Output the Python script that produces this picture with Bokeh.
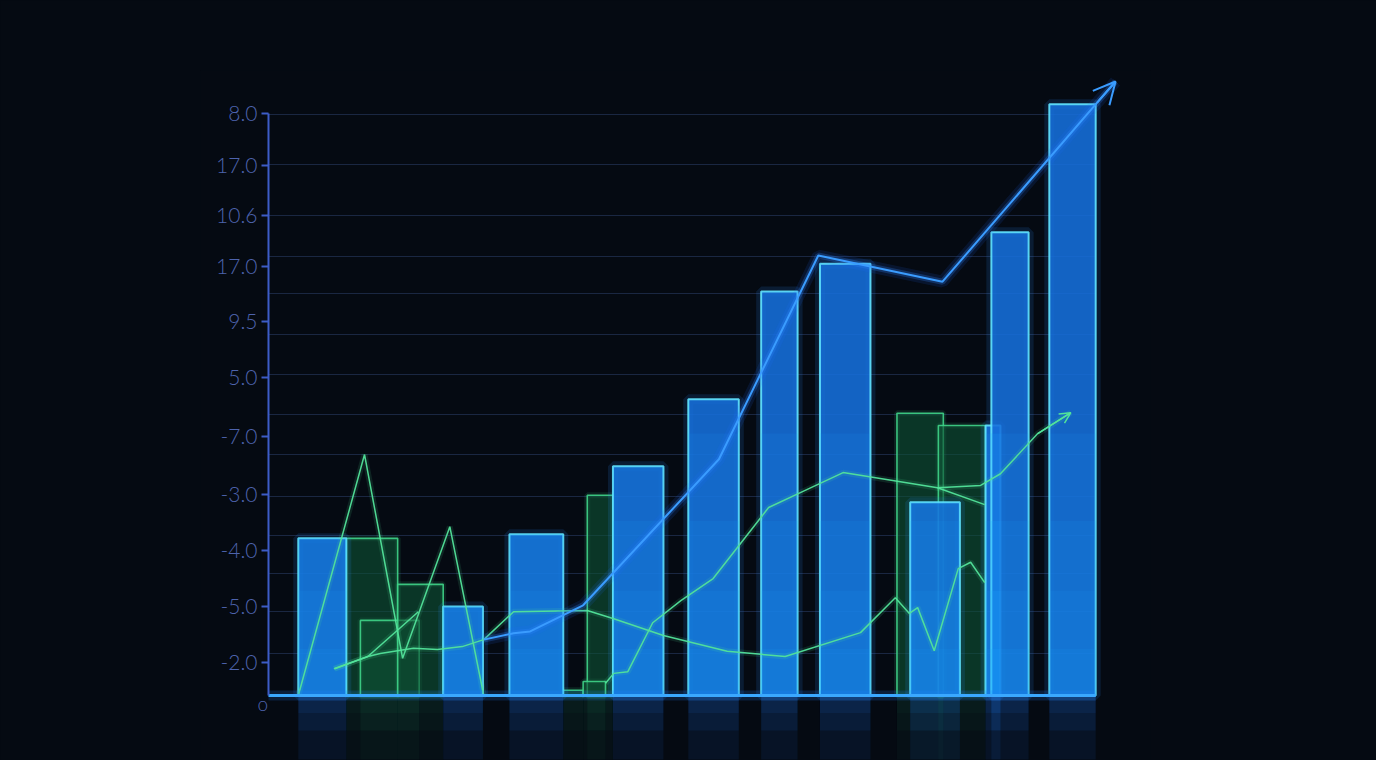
from bokeh.plotting import figure
from bokeh.models import FixedTicker, Label, Arrow, OpenHead
from bokeh.embed import file_html
from bokeh.resources import INLINE

# ---------------- data (chart units: x 0..100 along baseline, y 0 = baseline) ----------------
ytick_pos = [100.0, 91.1, 82.5, 73.7, 64.3, 54.6, 44.5, 34.5, 24.9, 15.3, 5.7]
ytick_labels = ["8.0", "17.0", "10.6", "17.0", "9.5", "5.0", "-7.0", "-3.0", "-4.0", "-5.0", "-2.0"]
grid_pos = [99.8, 91.2, 82.5, 75.4, 69.1, 62.0, 55.2, 48.3, 41.4, 34.2, 27.5, 21.0, 14.4, 7.2]

blue_left = [3.6, 21.1, 29.1, 41.6, 50.7, 59.5, 66.6, 77.5, 86.6, 87.3, 94.3]
blue_right = [9.4, 25.9, 35.6, 47.7, 56.8, 63.9, 72.7, 83.5, 88.4, 91.8, 99.9]
blue_top = [27.0, 15.3, 27.7, 39.4, 50.9, 69.4, 74.2, 33.2, 46.4, 79.6, 101.6]

green_left = [9.4, 11.1, 15.6, 35.6, 38.5, 38.0, 75.9, 80.9]
green_right = [15.6, 18.2, 21.1, 38.0, 41.6, 40.7, 81.5, 86.6]
green_top = [27.0, 12.9, 19.1, 0.9, 34.4, 2.4, 48.5, 46.4]

gA_x = [3.6, 11.6, 16.2, 21.9, 26.0]
gA_y = [0.0, 41.4, 6.4, 29.0, 0.0]
gB_x = [7.9, 12.0, 13.5, 17.5, 20.4, 23.4, 26.0]
gB_y = [4.6, 6.7, 7.2, 8.1, 7.9, 8.4, 9.6]
gE_x = [8.0, 12.0, 18.1]
gE_y = [4.6, 6.7, 14.4]
gC_x = [26.0, 29.6, 38.5, 41.7, 47.7, 55.4, 62.4, 71.5, 75.7, 77.4, 78.4, 80.4, 83.3, 84.8, 86.5]
gC_y = [9.6, 14.4, 14.6, 13.2, 10.3, 7.6, 6.7, 10.8, 16.8, 14.1, 15.1, 7.7, 21.8, 22.9, 19.4]
gD_x = [40.7, 41.7, 43.4, 46.4, 49.8, 53.7, 60.4, 64.3, 69.4, 80.8, 86.0, 88.4, 92.9, 96.9]
gD_y = [2.1, 3.8, 4.1, 12.5, 16.3, 20.1, 32.3, 34.9, 38.3, 35.7, 36.1, 38.1, 45.0, 48.6]
gF_x = [80.8, 86.5]
gF_y = [35.7, 32.8]

trend_x = [26.0, 29.6, 31.6, 38.0, 54.4, 66.4, 81.4, 100.1, 102.3]
trend_y = [9.6, 10.7, 11.0, 15.5, 40.6, 75.6, 71.1, 101.9, 105.5]

origin_label = "o"

# ---------------- styling ----------------
BG = "#050a12"
AXIS = "#3d5cc7"
LABEL = "#4d63ad"
GRID = "#1a2742"
BLUE_FILL = "#1670dc"
BLUE_EDGE = "#62e4ff"
GREEN_FILL = "#0f5236"
GREEN_EDGE = "#3fd488"
GREEN_LINE = "#52e39a"
TREND = "#3a9cff"
FONT = "Lato Light, Lato"

p = figure(width=1376, height=760, output_backend="svg", toolbar_location=None,
           x_range=(-8.21, 106.52), y_range=(-11.17, 107.39),
           min_border_left=200, min_border_right=226, min_border_top=70, min_border_bottom=0,
           background_fill_color=BG, border_fill_color=BG)
p.outline_line_color = None
p.styles = {"background-color": BG}

p.xaxis.visible = False
p.xgrid.visible = False

yax = p.yaxis[0]
yax.fixed_location = 0
yax.ticker = FixedTicker(ticks=ytick_pos)
yax.major_label_overrides = {t: s for t, s in zip(ytick_pos, ytick_labels)}
yax.bounds = (0, 100)
yax.axis_line_color = AXIS
yax.axis_line_width = 2
yax.major_tick_line_color = AXIS
yax.major_tick_line_width = 2
yax.major_tick_out = 7
yax.major_tick_in = 0
yax.minor_tick_line_color = None
yax.major_label_text_color = LABEL
yax.major_label_text_font = FONT
yax.major_label_text_font_size = "21px"
yax.major_label_standoff = 4

grid_span = [0, max(blue_right)]
try:
    p.ygrid.ticker = FixedTicker(ticks=grid_pos)
    p.ygrid.grid_line_color = GRID
    p.ygrid.grid_line_width = 1
    p.ygrid.cross_bounds = (grid_span[0], grid_span[1])
except AttributeError:
    p.ygrid.visible = False
    p.segment(x0=[grid_span[0]] * len(grid_pos), x1=[grid_span[1]] * len(grid_pos),
              y0=grid_pos, y1=grid_pos, line_color=GRID, line_width=1)

zero_g = [0] * len(green_left)
zero_b = [0] * len(blue_left)

# reflections below baseline
for depth in (3.0, 6.0, 11.0):
    p.quad(left=green_left, right=green_right, top=zero_g, bottom=[-depth] * len(green_left),
           fill_color="#14503a", fill_alpha=0.10, line_color=None)
    p.quad(left=blue_left, right=blue_right, top=zero_b, bottom=[-depth] * len(blue_left),
           fill_color="#1a6fd6", fill_alpha=0.10, line_color=None)

# green bars
p.quad(left=green_left, right=green_right, top=green_top, bottom=zero_g,
       fill_color=None, line_color=GREEN_EDGE, line_width=6, line_alpha=0.12)
p.quad(left=green_left, right=green_right, top=green_top, bottom=zero_g,
       fill_color=GREEN_FILL, fill_alpha=0.62, line_color=GREEN_EDGE, line_width=1.6, line_alpha=0.9)

# blue bars
p.quad(left=blue_left, right=blue_right, top=blue_top, bottom=zero_b,
       fill_color=None, line_color="#2a8cff", line_width=10, line_alpha=0.14)
p.quad(left=blue_left, right=blue_right, top=blue_top, bottom=zero_b,
       fill_color=BLUE_FILL, fill_alpha=0.88, line_color=BLUE_EDGE, line_width=2, line_alpha=0.9)
for h in (45, 30, 18, 8):
    p.quad(left=blue_left, right=blue_right, top=[min(t, h) for t in blue_top], bottom=zero_b,
           fill_color="#22a2ff", fill_alpha=0.1, line_color=None)

# green lines
gxs = [gA_x, gB_x, gE_x, gC_x, gD_x, gF_x]
gys = [gA_y, gB_y, gE_y, gC_y, gD_y, gF_y]
p.multi_line(xs=gxs, ys=gys, line_color=GREEN_LINE, line_width=6, line_alpha=0.12)
p.multi_line(xs=gxs, ys=gys, line_color=GREEN_LINE, line_width=1.5, line_alpha=0.95)
p.add_layout(Arrow(end=OpenHead(size=11, line_color=GREEN_LINE, line_width=1.5),
                   x_start=gD_x[-2], y_start=gD_y[-2], x_end=gD_x[-1], y_end=gD_y[-1],
                   line_color=GREEN_LINE, line_width=1.5))

# blue trend line with glow
p.line(trend_x, trend_y, line_color="#1f6fff", line_width=12, line_alpha=0.12)
p.line(trend_x, trend_y, line_color="#2f86ff", line_width=6, line_alpha=0.25)
p.line(trend_x, trend_y, line_color=TREND, line_width=2.0)
p.add_layout(Arrow(end=OpenHead(size=22, line_color=TREND, line_width=2.0),
                   x_start=trend_x[-2], y_start=trend_y[-2], x_end=trend_x[-1], y_end=trend_y[-1],
                   line_color=TREND, line_width=2.0))

# glowing baseline
base_x = [0, max(blue_right)]
p.line(base_x, [0, 0], line_color="#1f7fff", line_width=10, line_alpha=0.18)
p.line(base_x, [0, 0], line_color="#3aa8ff", line_width=3)

p.add_layout(Label(x=-0.7, y=-1.4, text=origin_label, text_color=LABEL, text_font=FONT,
                   text_font_size="19px", text_align="center", text_baseline="middle"))

html = file_html(p, INLINE)
html = html.replace("<body>", '<body style="background-color:%s">' % BG, 1)
open("out.html", "w").write(html)
